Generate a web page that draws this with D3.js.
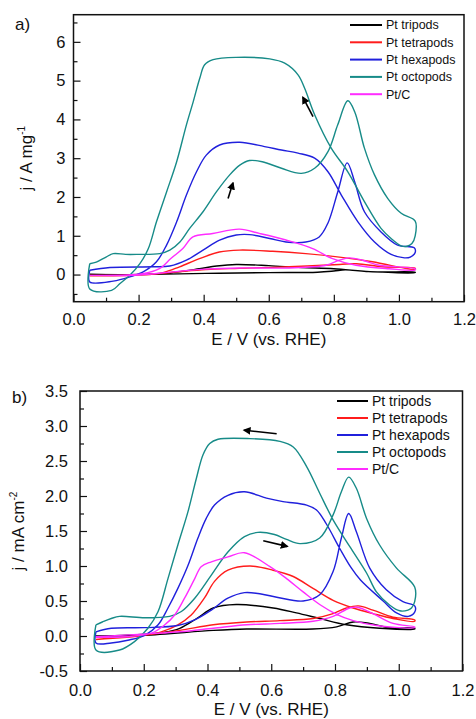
<!DOCTYPE html>
<html>
<head>
<meta charset="utf-8">
<script src="https://cdn.jsdelivr.net/npm/d3@7"></script>
<style>
  body { margin: 0; background: #fff; }
  text { font-family: "Liberation Sans", Arial, sans-serif; }
</style>
</head>
<body>
<script>
// series names + colours (same for both panels)
const seriesNames = ["Pt tripods", "Pt tetrapods", "Pt hexapods", "Pt octopods", "Pt/C"];
const seriesColors = ["#000000", "#ff1c1c", "#2020dc", "#178b88", "#ff2cff"];

// axis ticks
const xTicks = [0.0, 0.2, 0.4, 0.6, 0.8, 1.0, 1.2];
const xMinor = [0.1, 0.3, 0.5, 0.7, 0.9, 1.1];
const aYTicks = [0, 1, 2, 3, 4, 5, 6];
const aYMinor = [-0.5, 0.5, 1.5, 2.5, 3.5, 4.5, 5.5, 6.5];
const bYTicks = [-0.5, 0.0, 0.5, 1.0, 1.5, 2.0, 2.5, 3.0, 3.5];
const bYMinor = [-0.25, 0.25, 0.75, 1.25, 1.75, 2.25, 2.75, 3.25];

// panel a) j / A mg-1, closed CV loops [E, j]
const aTripods = [[0.05,0.0],[0.2,0.0],[0.407,0.03],[0.6,0.05],[0.75,0.06],[0.8,0.09],[0.835,0.12],[0.9,0.08],[1.05,0.05],
  [1.05,0.06],[0.919,0.07],[0.8,0.15],[0.7,0.18],[0.6,0.23],[0.5,0.26],[0.44,0.22],[0.387,0.15],[0.3,0.05],[0.2,0.0],[0.05,0.0]];
const aTetrapods = [[0.05,-0.02],[0.2,-0.01],[0.305,0.06],[0.407,0.13],[0.51,0.16],[0.663,0.2],[0.817,0.26],[0.87,0.28],[0.95,0.2],[1.05,0.16],
  [1.05,0.13],[0.919,0.33],[0.817,0.45],[0.714,0.54],[0.612,0.6],[0.51,0.63],[0.448,0.58],[0.387,0.41],[0.326,0.2],[0.275,0.05],[0.2,-0.01],[0.05,-0.03]];
const aHexapods = [[0.05,0.11],[0.112,0.18],[0.245,0.2],[0.296,0.22],[0.347,0.37],[0.398,0.63],[0.449,0.89],[0.50,1.02],[0.541,1.03],[0.603,0.93],
  [0.653,0.84],[0.714,0.84],[0.755,0.97],[0.782,1.33],[0.812,2.13],[0.841,2.88],[0.864,2.39],[0.894,1.62],[0.945,1.10],[0.996,0.76],[1.047,0.69],
  [1.05,0.57],[1.035,0.45],[1.017,0.43],[0.976,0.52],[0.925,0.84],[0.874,1.36],[0.823,2.05],[0.782,2.65],[0.741,3.0],[0.69,3.13],[0.639,3.21],
  [0.587,3.30],[0.511,3.41],[0.449,3.34],[0.408,3.08],[0.378,2.65],[0.347,2.05],[0.317,1.36],[0.286,0.76],[0.255,0.33],[0.214,0.07],[0.173,-0.06],
  [0.122,-0.17],[0.05,-0.19],[0.05,0.11]];
const aOctopods = [[0.05,0.28],[0.07,0.32],[0.1,0.45],[0.122,0.54],[0.16,0.52],[0.194,0.52],[0.265,0.54],[0.296,0.63],[0.327,0.84],[0.357,1.19],
  [0.398,1.62],[0.439,2.13],[0.48,2.57],[0.511,2.82],[0.541,2.94],[0.58,2.91],[0.639,2.74],[0.70,2.61],[0.741,2.74],[0.782,3.17],[0.812,3.86],
  [0.843,4.48],[0.864,4.2],[0.894,3.26],[0.925,2.57],[0.966,1.96],[1.007,1.58],[1.05,1.38],[1.05,1.0],[1.04,0.8],[1.025,0.73],[1.007,0.74],
  [0.976,0.93],[0.945,1.19],[0.894,1.88],[0.843,2.65],[0.792,3.26],[0.741,4.12],[0.71,4.81],[0.69,5.15],[0.649,5.45],[0.603,5.56],[0.50,5.60],
  [0.429,5.54],[0.403,5.41],[0.388,5.06],[0.368,4.46],[0.347,3.86],[0.317,2.91],[0.286,2.13],[0.255,1.36],[0.23,0.67],[0.204,0.28],[0.173,-0.02],
  [0.143,-0.23],[0.117,-0.41],[0.05,-0.37],[0.05,0.28]];
const aPtC = [[0.05,-0.02],[0.203,-0.01],[0.305,0.07],[0.407,0.14],[0.51,0.17],[0.663,0.17],[0.776,0.24],[0.817,0.37],[0.847,0.43],[0.888,0.37],
  [0.939,0.24],[1.05,0.15],[1.05,0.12],[0.97,0.15],[0.868,0.24],[0.796,0.41],[0.735,0.67],[0.653,0.89],[0.571,1.06],[0.51,1.17],[0.428,1.06],
  [0.367,0.97],[0.336,0.67],[0.3,0.42],[0.264,0.15],[0.212,0.02],[0.05,-0.02]];

// panel b) j / mA cm-2
const bTripods = [[0.05,0.0],[0.2,0.01],[0.418,0.08],[0.523,0.1],[0.73,0.1],[0.805,0.13],[0.857,0.2],[0.909,0.18],[0.97,0.12],[1.05,0.11],
  [1.05,0.1],[0.94,0.11],[0.836,0.16],[0.752,0.25],[0.679,0.33],[0.606,0.40],[0.49,0.45],[0.418,0.4],[0.366,0.25],[0.313,0.11],[0.261,0.05],[0.15,0.01],[0.05,0.0]];
const bTetrapods = [[0.05,-0.05],[0.2,0.01],[0.313,0.08],[0.418,0.16],[0.523,0.2],[0.627,0.22],[0.731,0.25],[0.794,0.32],[0.836,0.4],[0.873,0.43],
  [0.919,0.37],[0.982,0.27],[1.05,0.23],[1.05,0.21],[0.982,0.25],[0.919,0.32],[0.857,0.4],[0.794,0.51],[0.731,0.68],[0.669,0.85],[0.606,0.94],
  [0.533,1.0],[0.464,0.94],[0.422,0.78],[0.39,0.54],[0.349,0.3],[0.307,0.16],[0.255,0.06],[0.203,0.01],[0.05,-0.05]];
const bHexapods = [[0.05,0.06],[0.098,0.11],[0.203,0.12],[0.307,0.15],[0.36,0.23],[0.412,0.37],[0.464,0.54],[0.516,0.62],[0.568,0.6],[0.621,0.55],
  [0.70,0.5],[0.752,0.59],[0.794,0.92],[0.82,1.40],[0.843,1.75],[0.867,1.49],[0.909,0.97],[0.961,0.66],[1.013,0.49],[1.05,0.43],[1.05,0.34],
  [1.03,0.28],[0.993,0.33],[0.951,0.5],[0.88,0.8],[0.85,0.98],[0.815,1.25],[0.773,1.6],[0.742,1.8],[0.711,1.87],[0.637,1.92],[0.585,1.97],
  [0.516,2.06],[0.464,2.01],[0.422,1.87],[0.396,1.68],[0.37,1.40],[0.339,1.01],[0.307,0.68],[0.276,0.4],[0.245,0.16],[0.203,0.01],[0.15,-0.06],
  [0.098,-0.1],[0.05,-0.1],[0.05,0.06]];
const bOctopods = [[0.05,0.16],[0.07,0.2],[0.098,0.25],[0.124,0.28],[0.203,0.26],[0.281,0.28],[0.318,0.35],[0.36,0.54],[0.412,0.87],[0.464,1.2],
  [0.516,1.42],[0.558,1.48],[0.61,1.45],[0.648,1.38],[0.69,1.32],[0.752,1.40],[0.794,1.73],[0.82,2.06],[0.843,2.27],[0.867,2.11],[0.899,1.68],
  [0.94,1.3],[0.993,0.97],[1.05,0.70],[1.05,0.49],[1.04,0.40],[1.029,0.37],[1.003,0.36],[0.972,0.44],[0.93,0.63],[0.899,0.9],[0.846,1.28],
  [0.794,1.66],[0.752,2.04],[0.711,2.42],[0.669,2.7],[0.627,2.78],[0.533,2.82],[0.433,2.81],[0.407,2.75],[0.386,2.59],[0.365,2.25],[0.339,1.78],
  [0.307,1.3],[0.276,0.82],[0.245,0.35],[0.213,0.11],[0.171,-0.08],[0.124,-0.2],[0.05,-0.2],[0.05,0.16]];
const bPtC = [[0.05,-0.01],[0.209,0.03],[0.313,0.06],[0.418,0.11],[0.523,0.16],[0.627,0.18],[0.731,0.21],[0.794,0.28],[0.846,0.40],[0.87,0.41],
  [0.919,0.32],[0.982,0.18],[1.05,0.13],[1.05,0.12],[0.93,0.15],[0.857,0.22],[0.805,0.31],[0.752,0.45],[0.70,0.63],[0.648,0.82],[0.596,0.99],
  [0.516,1.19],[0.464,1.13],[0.412,1.06],[0.38,0.99],[0.36,0.82],[0.328,0.54],[0.297,0.3],[0.266,0.16],[0.224,0.04],[0.15,-0.01],[0.05,-0.02]];

// scan direction arrows [E0, j0, E1, j1]
const aArrows = [[0.475, 1.96, 0.49, 2.36], [0.736, 4.07, 0.705, 4.57]];
const bArrows = [[0.617, 2.89, 0.515, 2.94], [0.575, 1.36, 0.65, 1.28]];

let svg = d3.select("body").append("svg")
  .attr("width", 476)
  .attr("height", 719);

svg.append("defs").append("marker")
  .attr("id", "head")
  .attr("viewBox", "0 0 10 10")
  .attr("refX", 8).attr("refY", 5)
  .attr("markerWidth", 5).attr("markerHeight", 5)
  .attr("orient", "auto")
  .append("path")
  .attr("d", "M0,0 L10,5 L0,10 z")
  .attr("fill", "#000");

function fmtTick(d) {
  return d3.format(".1f")(d).replace("\u2212", "-");
}

function drawPanel(p) {
  let x = d3.scaleLinear().domain([0, 1.2]).range([p.left, p.right]);
  let y = d3.scaleLinear().domain(p.yDomain).range([p.bottom, p.top]);
  let g = svg.append("g");

  // minor ticks first
  g.append("g")
    .attr("transform", "translate(0," + p.bottom + ")")
    .call(d3.axisBottom(x).tickValues(xMinor).tickSize(-4).tickFormat(""))
    .call(a => a.select(".domain").remove());
  g.append("g")
    .attr("transform", "translate(" + p.left + ",0)")
    .call(d3.axisLeft(y).tickValues(p.yMinor).tickSize(-4).tickFormat(""))
    .call(a => a.select(".domain").remove());

  // major ticks + labels
  let xa = g.append("g")
    .attr("transform", "translate(0," + p.bottom + ")")
    .call(d3.axisBottom(x).tickValues(xTicks).tickSize(-7).tickPadding(p.xPad).tickFormat(fmtTick));
  xa.select(".domain").remove();
  xa.selectAll("text").attr("font-size", "16.5px").attr("fill", "#111");

  let ya = g.append("g")
    .attr("transform", "translate(" + p.left + ",0)")
    .call(d3.axisLeft(y).tickValues(p.yTicks).tickSize(-7).tickPadding(p.yPad).tickFormat(p.yFmt));
  ya.select(".domain").remove();
  ya.selectAll("text").attr("font-size", "16.5px").attr("fill", "#111");
  g.selectAll(".tick line").attr("stroke", "#111").attr("stroke-width", 1.2);

  // curves
  let line = d3.line()
    .x(d => x(d[0]))
    .y(d => y(d[1]))
    .curve(d3.curveCatmullRom.alpha(0.5));

  g.selectAll(".cv")
    .data(p.series)
    .enter()
    .append("path")
    .attr("class", "cv")
    .attr("d", d => line(d))
    .attr("fill", "none")
    .attr("stroke", (d, i) => seriesColors[i])
    .attr("stroke-width", 1.4);

  // arrows
  g.selectAll(".arrow")
    .data(p.arrows)
    .enter()
    .append("line")
    .attr("x1", d => x(d[0]))
    .attr("y1", d => y(d[1]))
    .attr("x2", d => x(d[2]))
    .attr("y2", d => y(d[3]))
    .attr("stroke", "#000")
    .attr("stroke-width", 1.6)
    .attr("marker-end", "url(#head)");

  // frame
  g.append("rect")
    .attr("x", p.left).attr("y", p.top)
    .attr("width", p.right - p.left)
    .attr("height", p.bottom - p.top)
    .attr("fill", "none")
    .attr("stroke", "#111")
    .attr("stroke-width", 1.5);

  // legend
  let leg = g.selectAll(".leg")
    .data(seriesNames)
    .enter()
    .append("g")
    .attr("transform", (d, i) => "translate(" + p.legX + "," + (p.legY + i * p.legStep) + ")");
  leg.append("line")
    .attr("x1", 0).attr("x2", p.legLen)
    .attr("stroke", (d, i) => seriesColors[i])
    .attr("stroke-width", 2);
  leg.append("text")
    .attr("x", p.legLen + 4)
    .attr("dy", "0.35em")
    .attr("font-size", p.legFont + "px")
    .attr("fill", "#111")
    .text(d => d);

  // axis titles
  g.append("text")
    .attr("x", (p.left + p.right) / 2)
    .attr("y", p.xTitleY)
    .attr("text-anchor", "middle")
    .attr("font-size", "17px")
    .attr("fill", "#111")
    .text("E / V (vs. RHE)");

  let yt = g.append("text")
    .attr("transform", "translate(" + p.yTitleX + "," + ((p.top + p.bottom) / 2) + ") rotate(-90)")
    .attr("text-anchor", "middle")
    .attr("font-size", "17px")
    .attr("fill", "#111");
  yt.append("tspan").text(p.yTitle);
  yt.append("tspan").attr("dy", -7).attr("font-size", "10px").text(p.yExp);

  g.append("text")
    .attr("x", p.labX).attr("y", p.labY)
    .attr("font-size", "17px")
    .attr("fill", "#111")
    .text(p.label);
}

drawPanel({
  left: 73.5, right: 464, top: 14.7, bottom: 301.7,
  yDomain: [-0.7, 6.7], yTicks: aYTicks, yMinor: aYMinor, yFmt: d3.format("d"),
  xPad: 12, yPad: 8,
  series: [aTripods, aTetrapods, aHexapods, aOctopods, aPtC],
  arrows: aArrows,
  legX: 350, legY: 25, legStep: 17.3, legLen: 32, legFont: 12.5,
  xTitleY: 345, yTitleX: 32, yTitle: "j / A mg", yExp: "-1",
  label: "a)", labX: 15, labY: 30
});

drawPanel({
  left: 80, right: 462.5, top: 391, bottom: 671,
  yDomain: [-0.5, 3.5], yTicks: bYTicks, yMinor: bYMinor, yFmt: fmtTick,
  xPad: 13, yPad: 12,
  series: [bTripods, bTetrapods, bHexapods, bOctopods, bPtC],
  arrows: bArrows,
  legX: 337, legY: 401, legStep: 17, legLen: 31, legFont: 14,
  xTitleY: 715, yTitleX: 24, yTitle: "j / mA cm", yExp: "-2",
  label: "b)", labX: 12, labY: 403
});
</script>
</body>
</html>
